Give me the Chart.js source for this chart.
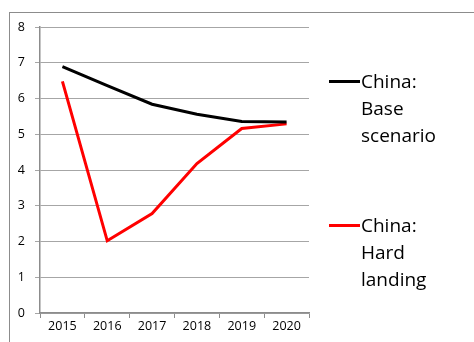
<!DOCTYPE html>
<html>
<head>
<meta charset="utf-8">
<script src="https://cdn.jsdelivr.net/npm/chart.js@4"></script>
<style>
  body { margin: 0; background: #fff; }
  #wrap { position: relative; width: 474px; height: 342px; overflow: hidden; }
  #frame { position: absolute; left: 9px; top: 12px; width: 480px; height: 340px; border: 1px solid #8c8c8c; }
  canvas { position: absolute; left: 0; top: 0; }
  .leg { position: absolute; left: 329px; font-family: "Open Sans", sans-serif; font-size: 19px; line-height: 27px; color: #000; }
  .leg .sw { position: absolute; left: 0; top: 12px; width: 31px; height: 3px; }
  .leg .tx { position: absolute; left: 32px; top: 0; white-space: nowrap; }
</style>
</head>
<body>
<div id="wrap">
  <div id="frame"></div>
  <canvas id="c" width="474" height="342"></canvas>
  <div class="leg" style="top:68px"><div class="sw" style="background:#000"></div><div class="tx">China:<br>Base<br>scenario</div></div>
  <div class="leg" style="top:212px"><div class="sw" style="background:#ff0000"></div><div class="tx">China:<br>Hard<br>landing</div></div>
</div>
<script>
// chart data
const years = ['2015', '2016', '2017', '2018', '2019', '2020'];
const baseScenario = [6.89, 6.36, 5.84, 5.56, 5.36, 5.34];
const hardLanding = [6.48, 2.02, 2.78, 4.18, 5.16, 5.29];
const seriesNames = ['China: Base scenario', 'China: Hard landing'];

const tickFont = { family: '"Open Sans", sans-serif', size: 12.5 };

new Chart(document.getElementById('c').getContext('2d'), {
    type: 'line',
    data: {
        labels: years,
        datasets: [
            { label: seriesNames[0], data: baseScenario, borderColor: '#000', borderWidth: 3, pointRadius: 0, tension: 0 },
            { label: seriesNames[1], data: hardLanding, borderColor: '#ff0000', borderWidth: 3, pointRadius: 0, tension: 0 }
        ]
    },
    options: {
        responsive: false,
        animation: false,
        layout: { padding: { left: 0, right: 165, top: 27, bottom: 0 } },
        plugins: { legend: { display: false }, tooltip: { enabled: false } },
        scales: {
            x: {
                offset: true,
                grid: { drawOnChartArea: false, drawTicks: true, tickLength: 5, offset: true, color: '#8c8c8c' },
                border: { color: '#8c8c8c', width: 1.5 },
                ticks: { color: '#000', font: tickFont, padding: 1, maxRotation: 0 },
                afterFit: s => { s.height = 29; }
            },
            y: {
                min: 0, max: 8,
                grid: { color: '#a6a6a6', lineWidth: 1, tickLength: 5 },
                border: { color: '#8c8c8c', width: 1.5 },
                ticks: { stepSize: 1, color: '#000', font: tickFont, padding: 10 },
                afterFit: s => { s.width = 40; }
            }
        }
    }
});
</script>
</body>
</html>
